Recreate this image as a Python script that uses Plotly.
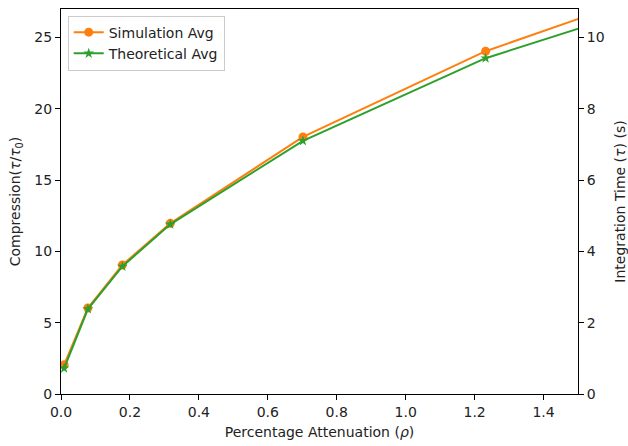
import plotly.graph_objects as go

# Data
rho = [0.009, 0.078, 0.178, 0.317, 0.702, 1.232, 1.94]
sim_avg = [2.05, 6.03, 9.05, 11.97, 18.03, 24.04, 30.0]
theo_avg = [1.8, 5.96, 8.95, 11.9, 17.75, 23.55, 29.0]
left_ticks = [0, 5, 10, 15, 20, 25]
right_ticks = [0, 2, 4, 6, 8, 10]
x_ticks = [0.0, 0.2, 0.4, 0.6, 0.8, 1.0, 1.2, 1.4]

ORANGE = "#ff7f0e"
GREEN = "#2ca02c"
FONT = "DejaVu Sans"
FS = 14

fig = go.Figure()
fig.add_trace(go.Scatter(
    x=rho, y=sim_avg, mode="lines+markers", name="Simulation Avg",
    line=dict(color=ORANGE, width=2),
    marker=dict(symbol="circle", size=9, color=ORANGE),
))
fig.add_trace(go.Scatter(
    x=rho, y=theo_avg, mode="lines+markers", name="Theoretical Avg",
    line=dict(color=GREEN, width=2),
    marker=dict(symbol="star", size=8, color=GREEN),
))
# invisible trace to anchor the right axis (integration time = 0.4 * compression)
fig.add_trace(go.Scatter(
    x=rho, y=[v * 0.4 for v in sim_avg], yaxis="y2", mode="lines",
    line=dict(width=0), opacity=0, showlegend=False, hoverinfo="skip",
))

axis_common = dict(
    showline=True, linecolor="black", linewidth=1,
    ticks="outside", ticklen=5, tickcolor="black", tickwidth=1,
    showgrid=False, zeroline=False, automargin=False,
    tickfont=dict(family=FONT, size=FS, color="#222222"),
)

fig.update_layout(
    width=628, height=446,
    margin=dict(l=61, r=50, t=9, b=52),
    paper_bgcolor="white", plot_bgcolor="white",
    font=dict(family=FONT, size=FS, color="#222222"),
    xaxis=dict(
        range=[0, 1.5], tickvals=x_ticks,
        ticktext=[f"{v:.1f}" for v in x_ticks],
        mirror=True,
        title=dict(text="Percentage Attenuation (<i>ρ</i>)", font=dict(family=FONT, size=FS), standoff=8),
        **axis_common,
    ),
    yaxis=dict(
        range=[0, 27], tickvals=left_ticks,
        title=dict(text="Compression(<i>τ</i>/<i>τ</i><sub>0</sub>)", font=dict(family=FONT, size=FS), standoff=10),
        **axis_common,
    ),
    yaxis2=dict(
        range=[0, 10.8], tickvals=right_ticks, overlaying="y", side="right",
        title=dict(text="Integration Time (<i>τ</i>) (s)", font=dict(family=FONT, size=FS), standoff=12),
        **axis_common,
    ),
    legend=dict(
        x=0.013, y=0.983, xanchor="left", yanchor="top",
        bgcolor="rgba(255,255,255,0.8)", bordercolor="#cccccc", borderwidth=1,
        font=dict(family=FONT, size=FS),
        itemwidth=30,
    ),
    showlegend=True,
)

fig.write_html("out.html")
